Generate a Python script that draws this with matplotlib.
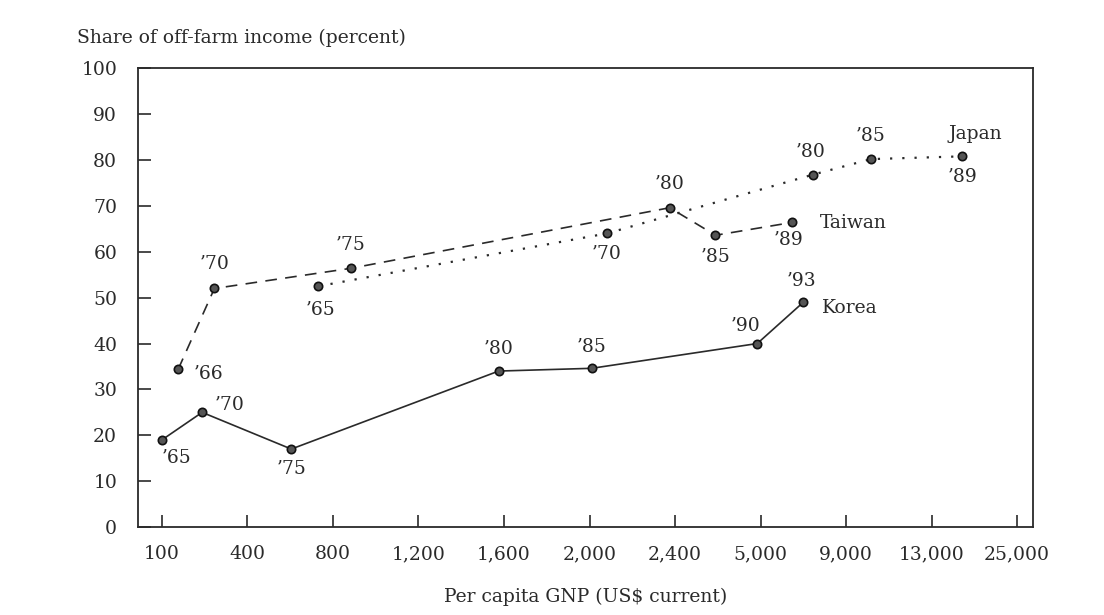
import numpy as np
import matplotlib.pyplot as plt
from matplotlib.scale import FuncScale

# x axis in the source is not linear: equally spaced ticks with these values
gnp_ticks = [100, 400, 800, 1200, 1600, 2000, 2400, 5000, 9000, 13000, 25000]
gnp_labels = ["100", "400", "800", "1,200", "1,600", "2,000", "2,400",
              "5,000", "9,000", "13,000", "25,000"]

korea_gnp = [100, 241, 605, 1575, 2010, 4900, 7000]
korea_share = [19, 25, 17, 34, 34.6, 40, 49]
korea_years = ["\u201965", "\u201970", "\u201975", "\u201980", "\u201985", "\u201990", "\u201993"]

taiwan_gnp = [157, 284, 884, 2375, 3630, 6480]
taiwan_share = [34.4, 52, 56.4, 69.6, 63.6, 66.4]
taiwan_years = ["\u201966", "\u201970", "\u201975", "\u201980", "\u201985", "\u201989"]

japan_gnp = [732, 2082, 7440, 10170, 17300]
japan_share = [52.5, 64, 76.8, 80.2, 80.8]
japan_years = ["\u201965", "\u201970", "\u201980", "\u201985", "\u201989"]

# label offsets in pixels (dx, dy), dy up
korea_off = [(15, -18), (28, 7), (0, -20), (0, 22), (0, 21), (-12, 18), (-2, 21)]
taiwan_off = [(30, -5), (0, 24), (0, 23), (0, 24), (0, -22), (-4, -18)]
japan_off = [(2, -24), (0, -21), (-2, 23), (0, 23), (0, -21)]

pos = np.arange(len(gnp_ticks), dtype=float)


def fwd(x):
    x = np.asarray(x, dtype=float)
    out = np.interp(x, gnp_ticks, pos)
    out = np.where(x < gnp_ticks[0], (x - gnp_ticks[0]) / 300.0, out)
    out = np.where(x > gnp_ticks[-1], pos[-1] + (x - gnp_ticks[-1]) / 12000.0, out)
    return out


def inv(p):
    p = np.asarray(p, dtype=float)
    out = np.interp(p, pos, gnp_ticks)
    out = np.where(p < 0, gnp_ticks[0] + p * 300.0, out)
    out = np.where(p > pos[-1], gnp_ticks[-1] + (p - pos[-1]) * 12000.0, out)
    return out


plt.rcParams['font.family'] = ['DejaVu Serif']
ink = '#2a2a2a'

fig = plt.figure(figsize=(11.04, 6.15), dpi=100)
ax = fig.add_axes([0.125, 0.143, 0.811, 0.746])
ax.set_xscale(FuncScale(ax.xaxis, (fwd, inv)))

mk = dict(marker='o', markersize=6, markerfacecolor='#555555',
          markeredgecolor='#111111', markeredgewidth=1.2, color=ink)
ax.plot(korea_gnp, korea_share, linestyle='-', linewidth=1.2, **mk)
ax.plot(taiwan_gnp, taiwan_share, linestyle=(0, (7, 5)), linewidth=1.2, **mk)
ax.plot(japan_gnp, japan_share, linestyle=(0, (1, 4.5)), linewidth=1.6, **mk)

fs = 13.5
for gx, gy, lab, off in zip(korea_gnp, korea_share, korea_years, korea_off):
    ax.annotate(lab, (gx, gy), xytext=off, textcoords='offset pixels',
                ha='center', va='center', fontsize=fs, color=ink)
for gx, gy, lab, off in zip(taiwan_gnp, taiwan_share, taiwan_years, taiwan_off):
    ax.annotate(lab, (gx, gy), xytext=off, textcoords='offset pixels',
                ha='center', va='center', fontsize=fs, color=ink)
for gx, gy, lab, off in zip(japan_gnp, japan_share, japan_years, japan_off):
    ax.annotate(lab, (gx, gy), xytext=off, textcoords='offset pixels',
                ha='center', va='center', fontsize=fs, color=ink)

ax.annotate("Korea", (korea_gnp[-1], korea_share[-1]), xytext=(19, -6),
            textcoords='offset pixels', ha='left', va='center', fontsize=fs, color=ink)
ax.annotate("Taiwan", (taiwan_gnp[-1], taiwan_share[-1]), xytext=(28, -1),
            textcoords='offset pixels', ha='left', va='center', fontsize=fs, color=ink)
ax.annotate("Japan", (japan_gnp[-1], japan_share[-1]), xytext=(13, 22),
            textcoords='offset pixels', ha='center', va='center', fontsize=fs, color=ink)

ax.set_xlim(inv(-0.28), inv(10.19))
ax.set_ylim(0, 100)
ax.set_xticks(gnp_ticks)
ax.set_xticklabels(gnp_labels)
ax.set_yticks(range(0, 101, 10))
ax.xaxis.set_minor_locator(plt.NullLocator())
ax.tick_params(direction='in', length=9, width=1.2, colors=ink, labelsize=fs, pad=13)
ax.tick_params(axis='y', pad=15)
for s in ax.spines.values():
    s.set_linewidth(1.3)
    s.set_color(ink)

ax.set_xlabel("Per capita GNP (US\\$ current)", fontsize=fs, color=ink, labelpad=18)
fig.text(0.07, 0.938, "Share of off-farm income (percent)", fontsize=fs,
         color=ink, ha='left', va='center')

fig.savefig("out.png", dpi=100)
